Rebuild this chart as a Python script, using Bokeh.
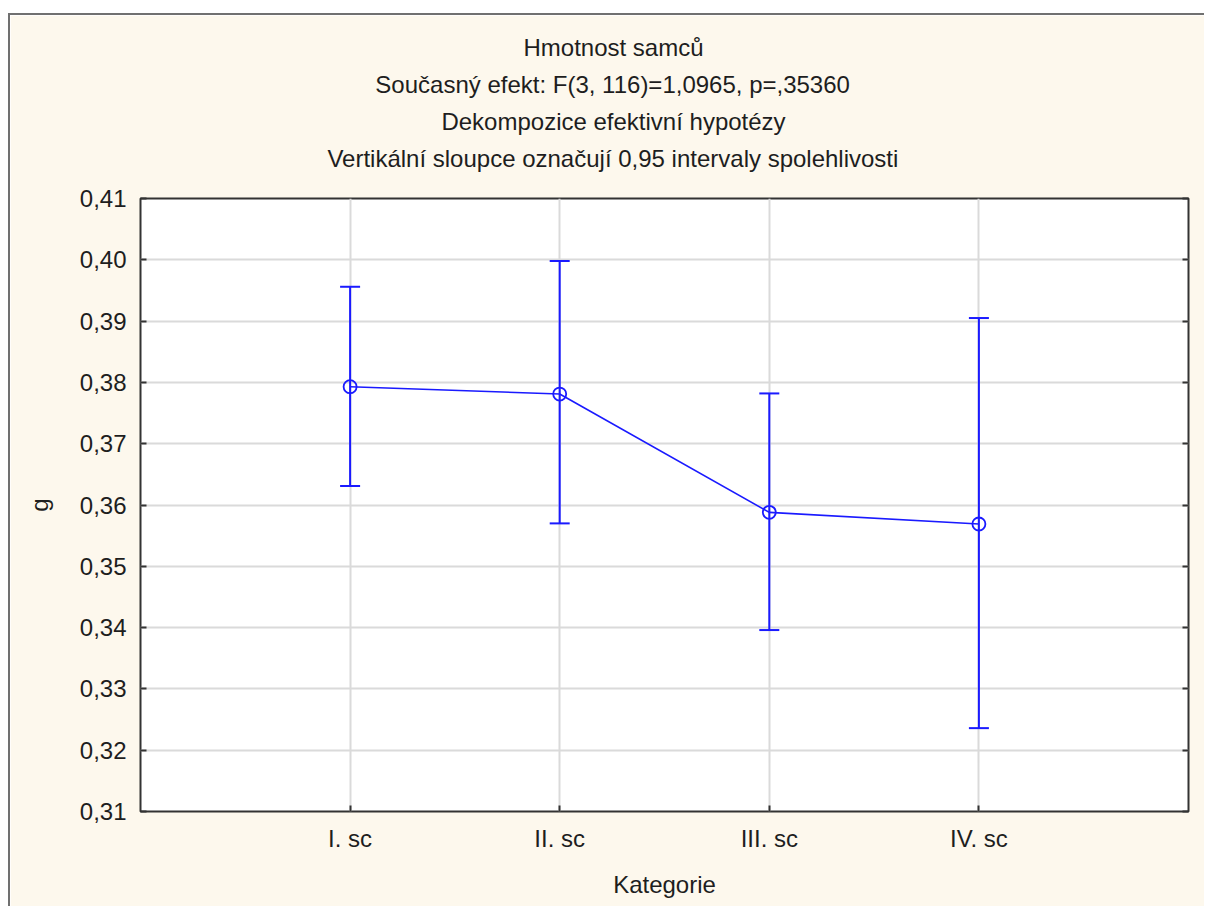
from bokeh.plotting import figure
from bokeh.models import (Range1d, FixedTicker, CustomJSTickFormatter, LinearAxis,
                          ColumnDataSource, Whisker, TeeHead, Title)
from bokeh.embed import file_html
from bokeh.resources import INLINE

# ---- data ----
categories = ["I. sc", "II. sc", "III. sc", "IV. sc"]
means = [0.3793, 0.3781, 0.3588, 0.3569]
upper = [0.3956, 0.3998, 0.3782, 0.3905]
lower = [0.3631, 0.3570, 0.3396, 0.3236]
title_lines = [
    "Hmotnost samců",
    "Současný efekt: F(3, 116)=1,0965, p=,35360",
    "Dekompozice efektivní hypotézy",
    "Vertikální sloupce označují 0,95 intervaly spolehlivosti",
]
y_ticks = [0.31, 0.32, 0.33, 0.34, 0.35, 0.36, 0.37, 0.38, 0.39, 0.40, 0.41]

FONT = "Liberation Sans"
FS = 24
TXT = "#1e1e1e"
BLUE = "#1a1aff"
CREAM = "#fdf8ed"

xs = list(range(1, len(categories) + 1))
src = ColumnDataSource(dict(x=xs, mean=means, upper=upper, lower=lower))

W, H = 1196, 893
ML, MT, MR, MB = 130, 183, 18, 97
x0, x1 = 0, len(categories) + 1
y0, y1 = y_ticks[0], y_ticks[-1]

p = figure(width=W, height=H, output_backend="svg", toolbar_location=None,
           x_range=Range1d(x0, x1), y_range=Range1d(y0, y1),
           min_border_left=ML, min_border_top=MT, min_border_right=MR,
           min_border_bottom=MB, background_fill_color="white",
           border_fill_color=CREAM, x_axis_label="Kategorie", y_axis_label="g")
p.margin = (13, 0, 0, 8)
p.styles = {"border-left": "2px solid #707070", "border-top": "2px solid #707070"}

p.outline_line_color = "#333333"
p.outline_line_width = 2

# axes
p.xaxis.ticker = FixedTicker(ticks=xs)
p.xaxis.major_label_overrides = {x: c for x, c in zip(xs, categories)}
p.yaxis.ticker = FixedTicker(ticks=y_ticks)
p.yaxis.formatter = CustomJSTickFormatter(code="return tick.toFixed(2).replace('.', ',');")
for ax in (p.xaxis[0], p.yaxis[0]):
    ax.axis_line_color = None
    ax.major_tick_in = 6
    ax.major_tick_out = 0
    ax.minor_tick_line_color = None
    ax.major_tick_line_color = "#333333"
    ax.major_tick_line_width = 2
    ax.major_label_text_font = FONT
    ax.major_label_text_font_size = f"{FS}px"
    ax.major_label_text_color = TXT
    ax.axis_label_text_font = FONT
    ax.axis_label_text_font_size = f"{FS}px"
    ax.axis_label_text_font_style = "normal"
    ax.axis_label_text_color = TXT
p.yaxis.major_label_standoff = 14
p.yaxis.axis_label_standoff = 24
p.xaxis.major_label_standoff = 13
p.xaxis.axis_label_standoff = 16

rax = LinearAxis(ticker=FixedTicker(ticks=y_ticks), major_tick_in=6, major_tick_out=0,
                 axis_line_color=None, minor_tick_line_color=None,
                 major_tick_line_color="#333333", major_tick_line_width=2,
                 formatter=CustomJSTickFormatter(code="return '';"),
                 major_label_standoff=0)
p.add_layout(rax, "right")

# invisible spacer between the frame and the title block
spacer = LinearAxis(ticker=FixedTicker(ticks=[(x0 + x1) / 2]), major_tick_in=0,
                    major_tick_out=23, axis_line_color=None, minor_tick_line_color=None,
                    major_tick_line_color=None, major_label_standoff=0,
                    formatter=CustomJSTickFormatter(code="return '';"))
p.add_layout(spacer, "above")

p.xgrid.ticker = FixedTicker(ticks=xs)
p.ygrid.ticker = FixedTicker(ticks=y_ticks)
p.grid.grid_line_color = "#dadada"
p.grid.grid_line_width = 2

# error bars
wh = Whisker(source=src, base="x", upper="upper", lower="lower",
             line_color=BLUE, line_width=2,
             upper_head=TeeHead(size=20, line_color=BLUE, line_width=2),
             lower_head=TeeHead(size=20, line_color=BLUE, line_width=2))
p.add_layout(wh)

p.line("x", "mean", source=src, line_color=BLUE, line_width=1.6)
p.scatter("x", "mean", source=src, marker="circle", size=13, fill_color=None,
          line_color=BLUE, line_width=1.8)

# title lines: left-aligned with an offset so each is centred at the chart centre
EM = {' ': 278, 'H': 722, 'm': 833, 'o': 556, 't': 278, 'n': 556, 's': 500, 'a': 556,
      'c': 500, 'ů': 556, 'S': 667, 'u': 556, 'č': 500, 'ý': 500, 'e': 556, 'f': 278,
      'k': 500, ':': 278, 'F': 611, '(': 333, ')': 333, ',': 278, '=': 584, 'p': 556,
      'D': 722, 'z': 500, 'i': 222, 'v': 500, 'í': 278, 'h': 556, 'y': 500, 'é': 556,
      'V': 667, 'r': 333, 'á': 556, 'l': 222, 'j': 222}
def text_w(s):
    return sum(EM.get(ch, 556) for ch in s) / 1000 * FS

centre_from_frame_left = 473
for txt in reversed(title_lines):
    off = centre_from_frame_left - text_w(txt) / 2
    p.add_layout(Title(text=txt, align="left", offset=off, text_font=FONT,
                       text_font_size=f"{FS}px", text_font_style="normal",
                       text_color=TXT, standoff=8), "above")

open("out.html", "w").write(file_html(p, INLINE))
